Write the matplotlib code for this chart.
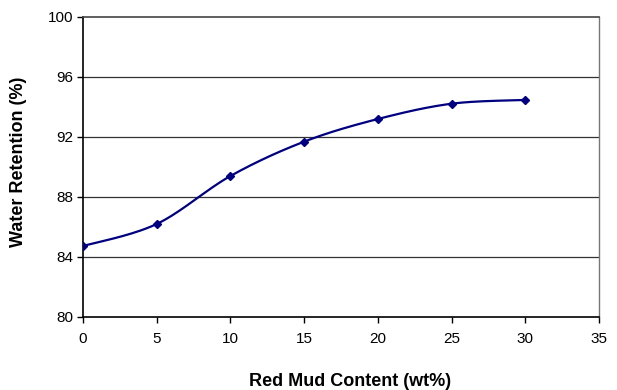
import numpy as np
import matplotlib
matplotlib.use("Agg")
import matplotlib.pyplot as plt

plt.rcParams['font.family'] = ['Liberation Sans', 'DejaVu Sans']

red_mud = [0, 5, 10, 15, 20, 25, 30]
retention = [84.73, 86.2, 89.4, 91.69, 93.2, 94.22, 94.47]
x_ticks = [0, 5, 10, 15, 20, 25, 30, 35]
y_ticks = [80, 84, 88, 92, 96, 100]


def smooth(xs, ys, n=30):
    xs = np.asarray(xs, float)
    ys = np.asarray(ys, float)
    px = np.concatenate([[xs[0]], xs, [xs[-1]]])
    py = np.concatenate([[ys[0]], ys, [ys[-1]]])
    ox, oy = [], []
    t = np.linspace(0, 1, n)
    for i in range(1, len(px) - 2):
        p0 = np.array([px[i], py[i]])
        p3 = np.array([px[i + 1], py[i + 1]])
        p1 = p0 + (np.array([px[i + 1], py[i + 1]]) - np.array([px[i - 1], py[i - 1]])) / 6
        p2 = p3 - (np.array([px[i + 2], py[i + 2]]) - np.array([px[i], py[i]])) / 6
        b = ((1 - t) ** 3)[:, None] * p0 + (3 * (1 - t) ** 2 * t)[:, None] * p1 + \
            (3 * (1 - t) * t ** 2)[:, None] * p2 + (t ** 3)[:, None] * p3
        ox.extend(b[:, 0])
        oy.extend(b[:, 1])
    return np.array(ox), np.array(oy)


fig = plt.figure(figsize=(6.17, 3.9), dpi=100)
W, H = 617, 390
ax = fig.add_axes([83 / W, 1 - 317 / H, (599 - 83) / W, (317 - 17) / H])

sx, sy = smooth(red_mud, retention)
ax.plot(sx, sy, color='#000080', lw=1.6, zorder=3)
ax.plot(red_mud, retention, ls='none', marker='D', ms=4.5, color='#000080', zorder=4)

ax.set_xlim(0, 35)
ax.set_ylim(80, 100)
ax.set_xticks(x_ticks)
ax.set_yticks(y_ticks)
for yv in y_ticks[1:-1]:
    ax.axhline(yv, color='#333333', lw=0.9, zorder=1)

ax.tick_params(direction='out', length=4, width=1, labelsize=11, colors='black')
ax.tick_params(axis='x', pad=7)
ax.tick_params(axis='y', pad=3)
ax.spines['left'].set_color('black')
ax.spines['bottom'].set_color('black')
ax.spines['left'].set_linewidth(1.2)
ax.spines['bottom'].set_linewidth(1.2)
ax.spines['top'].set_color('#444444')
ax.spines['top'].set_linewidth(1.2)
ax.spines['right'].set_color('#777777')
ax.spines['right'].set_linewidth(1.0)

fig.text(350 / W, 1 - 381 / H, 'Red Mud Content (wt%)', ha='center', va='center',
         fontsize=13, fontweight='bold')
fig.text(19 / W, 1 - 162 / H, 'Water Retention (%)', ha='center', va='center',
         rotation=90, fontsize=13, fontweight='bold')

fig.savefig('out.png', dpi=100)
